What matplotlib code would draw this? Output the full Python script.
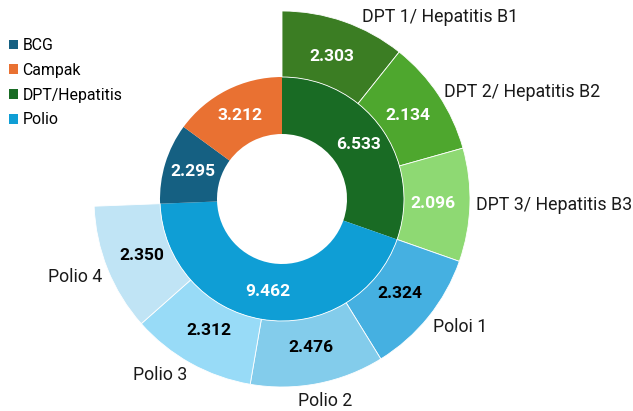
import matplotlib
matplotlib.use("Agg")
import matplotlib.pyplot as plt
from matplotlib.patches import Patch
import numpy as np

plt.rcParams['font.family'] = ['Roboto', 'DejaVu Sans']

# Inner ring (clockwise from 12 o'clock)
inner_labels = ["DPT/Hepatitis", "Polio", "BCG", "Campak"]
inner_values = [6.533, 9.462, 2.295, 3.212]
inner_colors = ["#196B24", "#0F9ED5", "#156082", "#E97132"]

# Outer ring
outer_labels = ["DPT 1/ Hepatitis B1", "DPT 2/ Hepatitis B2", "DPT 3/ Hepatitis B3",
                "Poloi 1", "Polio 2", "Polio 3", "Polio 4"]
outer_values = [2.303, 2.134, 2.096, 2.324, 2.476, 2.312, 2.350]
outer_colors = ["#3B7D23", "#4EA72E", "#8ED973", "#45B0E1", "#83CCEB", "#98DBF7", "#C0E4F5"]
outer_text_colors = ["white", "white", "white", "black", "black", "black", "black"]

# Legend order
legend_labels = ["BCG", "Campak", "DPT/Hepatitis", "Polio"]

W, H = 633, 411
fig = plt.figure(figsize=(W / 100, H / 100), dpi=100)
ax = fig.add_axes([0, 0, 1, 1])

cx, cy = 282, H - 199
r_hole, r_in, r_out = 65, 122, 188

# Inner ring
inner_w, _ = ax.pie(inner_values, radius=r_in, center=(cx, cy), startangle=90,
                    counterclock=False, colors=inner_colors,
                    wedgeprops=dict(width=r_in - r_hole, edgecolor="none"))

# Outer ring: the BCG and Campak parts have no sub-segments (left empty)
gap_values = [inner_values[2], inner_values[3]]
outer_all = outer_values + gap_values
outer_w, _ = ax.pie(outer_all, radius=r_out, center=(cx, cy), startangle=90,
                    counterclock=False,
                    colors=outer_colors + ["white", "white"],
                    wedgeprops=dict(width=r_out - r_in, edgecolor="white", linewidth=0.6))
for w in outer_w[len(outer_values):]:
    w.set_visible(False)

def mid_xy(w, r):
    a = np.deg2rad((w.theta1 + w.theta2) / 2)
    return cx + r * np.cos(a), cy + r * np.sin(a)

# Inner value labels
for w, v in zip(inner_w, inner_values):
    x, y = mid_xy(w, (r_in + r_hole) / 2)
    ax.text(x, y, f"{v:.3f}", ha="center", va="center", color="white",
            fontsize=12.5, fontweight="bold")

# Outer value labels and category labels
for w, v, lab, tc in zip(outer_w, outer_values, outer_labels, outer_text_colors):
    x, y = mid_xy(w, (r_out + r_in) / 2 - 4)
    ax.text(x, y, f"{v:.3f}", ha="center", va="center", color=tc,
            fontsize=12.5, fontweight="bold")
    lx, ly = mid_xy(w, r_out + 6)
    va = "center"
    if lx > cx + 50:
        ha = "left"
    elif lx < cx - 50:
        ha = "right"
    else:
        ha = "center" if ly < cy else "left"
    if ly > cy + 150 and ha == "left":
        lx += 16
        ly -= 1
    if ha == "center":
        lx += 6
        ly -= 3
        va = "top"
    elif ly < cy - 40:
        ly -= 6
    ax.text(lx, ly, lab, ha=ha, va=va, color="#1a1a1a", fontsize=12.8)

# Legend
color_map = dict(zip(inner_labels, inner_colors))
handles = [Patch(facecolor=color_map[l], edgecolor="none", label=l) for l in legend_labels]
ax.legend(handles=handles, loc="upper left", bbox_to_anchor=(9 / W, 1 - 38 / H),
          frameon=False, fontsize=11.4, handlelength=0.55, handleheight=0.55,
          handletextpad=0.3, labelspacing=0.62, borderpad=0, borderaxespad=0)

ax.set_xlim(0, W)
ax.set_ylim(0, H)
ax.set_aspect("equal")
ax.axis("off")

fig.savefig("out.png", dpi=100)
